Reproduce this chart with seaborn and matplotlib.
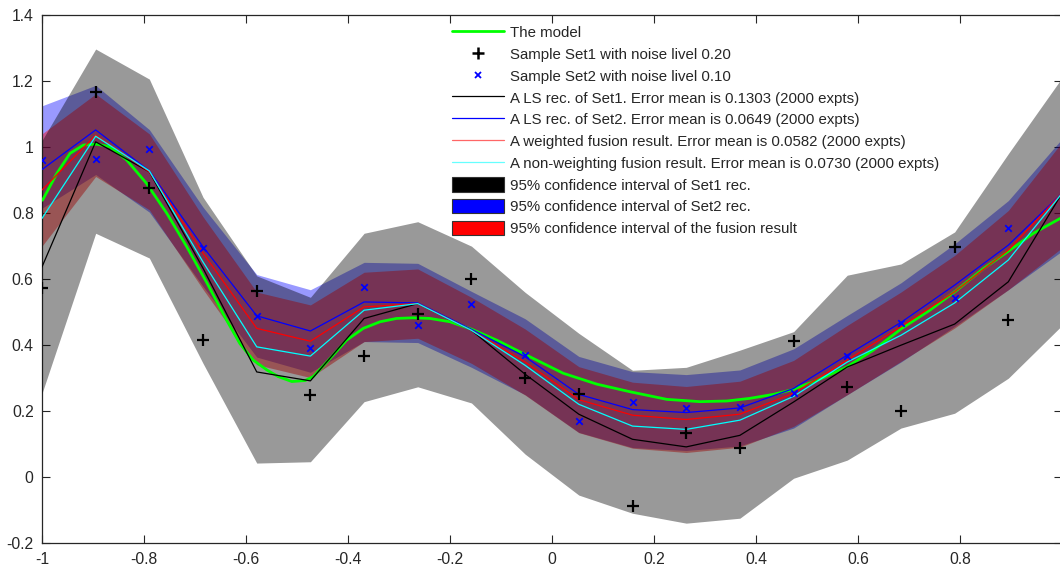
import matplotlib
matplotlib.use('Agg')
import matplotlib.pyplot as plt
import seaborn as sns
from matplotlib.lines import Line2D
from matplotlib.patches import Patch

nan = float('nan')

# sample positions (20 points on [-1, 1])
xs = [-1.0, -0.8947, -0.7895, -0.6842, -0.5789, -0.4737, -0.3684, -0.2632, -0.1579, -0.0526,
      0.0526, 0.1579, 0.2632, 0.3684, 0.4737, 0.5789, 0.6842, 0.7895, 0.8947, 1.0]

# noisy samples (the last one is not visible in the picture)
set1 = [0.573, 1.167, 0.876, 0.417, 0.565, 0.249, 0.368, 0.494, 0.600, 0.301,
        0.252, -0.087, 0.134, 0.089, 0.414, 0.273, 0.202, 0.697, 0.475, nan]
set2 = [0.961, 0.963, 0.993, 0.693, 0.488, 0.391, 0.576, 0.462, 0.526, 0.369,
        0.169, 0.228, 0.211, 0.212, 0.256, 0.368, 0.467, 0.542, 0.755, nan]

# reconstructions
ls1 = [0.637, 1.016, 0.925, 0.633, 0.319, 0.292, 0.481, 0.526, 0.445, 0.312,
       0.191, 0.115, 0.092, 0.127, 0.228, 0.334, 0.400, 0.464, 0.592, 0.86]
ls2 = [0.932, 1.052, 0.928, 0.698, 0.489, 0.443, 0.531, 0.528, 0.448, 0.365,
       0.251, 0.205, 0.196, 0.210, 0.269, 0.370, 0.469, 0.582, 0.703, 0.86]
fus_w = [0.870, 1.036, 0.925, 0.679, 0.451, 0.412, 0.516, 0.526, 0.445, 0.349,
         0.235, 0.188, 0.175, 0.191, 0.254, 0.355, 0.456, 0.562, 0.688, 0.86]
fus_nw = [0.784, 1.033, 0.928, 0.652, 0.395, 0.367, 0.506, 0.526, 0.445, 0.339,
          0.221, 0.155, 0.145, 0.173, 0.245, 0.349, 0.430, 0.528, 0.658, 0.86]

# 95% confidence bands
set1_hi = [1.02, 1.297, 1.206, 0.848, 0.61, 0.545, 0.739, 0.774, 0.70, 0.56,
           0.436, 0.324, 0.333, 0.385, 0.441, 0.612, 0.646, 0.743, 0.98, 1.21]
set1_lo = [0.254, 0.739, 0.664, 0.345, 0.043, 0.047, 0.229, 0.274, 0.225, 0.07,
           -0.054, -0.109, -0.139, -0.124, -0.003, 0.052, 0.149, 0.194, 0.30, 0.46]
set2_hi = [1.125, 1.187, 1.053, 0.818, 0.614, 0.568, 0.651, 0.648, 0.563, 0.480,
           0.366, 0.320, 0.311, 0.325, 0.389, 0.490, 0.589, 0.707, 0.838, 1.025]
set2_lo = [0.815, 0.917, 0.803, 0.578, 0.364, 0.318, 0.411, 0.408, 0.333, 0.250,
           0.136, 0.090, 0.081, 0.095, 0.149, 0.250, 0.349, 0.457, 0.568, 0.685]
fus_hi = [1.04, 1.161, 1.04, 0.789, 0.561, 0.522, 0.621, 0.631, 0.545, 0.449,
          0.335, 0.288, 0.275, 0.291, 0.354, 0.46, 0.561, 0.672, 0.808, 1.015]
fus_lo = [0.70, 0.911, 0.81, 0.569, 0.341, 0.302, 0.411, 0.421, 0.345, 0.249,
          0.135, 0.088, 0.075, 0.091, 0.154, 0.25, 0.351, 0.452, 0.568, 0.695]

model_x = [-0.999, -0.971, -0.945, -0.919, -0.893, -0.867, -0.834, -0.795, -0.755, -0.716,
           -0.677, -0.638, -0.612, -0.586, -0.559, -0.537, -0.510, -0.484, -0.468, -0.435,
           -0.403, -0.370, -0.337, -0.305, -0.272, -0.239, -0.200, -0.157, -0.108, -0.050,
           0.022, 0.088, 0.153, 0.225, 0.290, 0.343, 0.388, 0.434, 0.473, 0.525,
           0.578, 0.630, 0.686, 0.741, 0.794, 0.846, 0.898, 0.944, 1.0]
model_y = [0.839, 0.920, 0.981, 1.006, 1.009, 1.001, 0.961, 0.890, 0.799, 0.698,
           0.590, 0.476, 0.405, 0.355, 0.325, 0.305, 0.290, 0.293, 0.305, 0.360,
           0.415, 0.451, 0.471, 0.481, 0.483, 0.481, 0.471, 0.448, 0.415, 0.370,
           0.315, 0.282, 0.259, 0.236, 0.229, 0.231, 0.239, 0.251, 0.266, 0.297,
           0.334, 0.385, 0.451, 0.506, 0.567, 0.632, 0.688, 0.739, 0.787]

labels = ['The model',
          'Sample Set1 with noise livel 0.20',
          'Sample Set2 with noise livel 0.10',
          'A LS rec. of Set1. Error mean is 0.1303 (2000 expts)',
          'A LS rec. of Set2. Error mean is 0.0649 (2000 expts)',
          'A weighted fusion result. Error mean is 0.0582 (2000 expts)',
          'A non-weighting fusion result. Error mean is 0.0730 (2000 expts)',
          '95% confidence interval of Set1 rec.',
          '95% confidence interval of Set2 rec.',
          '95% confidence interval of the fusion result']

# the tick at x = 1 sits just past the right edge of the picture, so its label is not shown
xtick_vals = [-1, -0.8, -0.6, -0.4, -0.2, 0, 0.2, 0.4, 0.6, 0.8, 1]
xtick_text = ['-1', '-0.8', '-0.6', '-0.4', '-0.2', '0', '0.2', '0.4', '0.6', '0.8', '']
ytick_vals = [-0.2, 0, 0.2, 0.4, 0.6, 0.8, 1, 1.2, 1.4]
ytick_text = ['-0.2', '0', '0.2', '0.4', '0.6', '0.8', '1', '1.2', '1.4']

sns.set_style('ticks')
plt.rcParams['font.family'] = ['Liberation Sans', 'DejaVu Sans']

fig = plt.figure(figsize=(10.6, 5.65), dpi=100)
ax = fig.add_axes([0.0396, 0.0384, 0.9623, 0.935])

# bands: blue first, red next, grey on top (as in the original rendering)
ax.fill_between(xs, set2_lo, set2_hi, color='#0000ff', alpha=0.4, lw=0, zorder=1)
ax.fill_between(xs, fus_lo, fus_hi, color='#ff0000', alpha=0.44, lw=0, zorder=2)
ax.fill_between(xs, set1_lo, set1_hi, color='#000000', alpha=0.4, lw=0, zorder=3)

sns.lineplot(x=model_x, y=model_y, color='#00ff00', lw=2, estimator=None, sort=False, ax=ax, zorder=4)
sns.lineplot(x=xs, y=ls1, color='black', lw=0.9, estimator=None, sort=False, ax=ax, zorder=5)
sns.lineplot(x=xs, y=ls2, color='#0000ff', lw=0.9, estimator=None, sort=False, ax=ax, zorder=5)
sns.lineplot(x=xs, y=fus_w, color='#ff0000', lw=0.9, estimator=None, sort=False, ax=ax, zorder=5)
sns.lineplot(x=xs, y=fus_nw, color='#00ffff', lw=0.9, estimator=None, sort=False, ax=ax, zorder=5)
sns.scatterplot(x=xs, y=set1, marker='+', s=70, color='black', linewidth=1.6, ax=ax, zorder=6)
sns.scatterplot(x=xs, y=set2, marker='x', s=22, color='#0000ff', linewidth=1.3, ax=ax, zorder=6)

ax.set_xlim(-1, 1)
ax.set_ylim(-0.2, 1.4)
ax.set_xticks(xtick_vals)
ax.set_xticklabels(xtick_text)
ax.set_yticks(ytick_vals)
ax.set_yticklabels(ytick_text)
ax.tick_params(direction='in', length=6, width=0.8, colors='#262626', labelsize=11.3,
               top=True, right=True, pad=6)
for s in ax.spines.values():
    s.set_visible(True)
    s.set_color('#262626')
    s.set_linewidth(0.9)

handles = [Line2D([], [], color='#00ff00', lw=2),
           Line2D([], [], marker='+', ls='none', color='black', ms=8, mew=1.8),
           Line2D([], [], marker='x', ls='none', color='#0000ff', ms=5, mew=1.3),
           Line2D([], [], color='black', lw=0.9),
           Line2D([], [], color='#0000ff', lw=0.9),
           Line2D([], [], color='#ff6666', lw=0.9),
           Line2D([], [], color='#66ffff', lw=0.9),
           Patch(facecolor='black', edgecolor='#333333', lw=0.8),
           Patch(facecolor='#0000ff', edgecolor='#333333', lw=0.8),
           Patch(facecolor='#ff0000', edgecolor='#333333', lw=0.8)]
leg = fig.legend(handles, labels, loc='upper left', bbox_to_anchor=(452 / 1060, 1 - 25 / 565),
                 frameon=False, fontsize=10.8, borderpad=0, borderaxespad=0,
                 handlelength=3.44, handleheight=1.1, handletextpad=0.4, labelspacing=0.43)
for t in leg.get_texts():
    t.set_color('#262626')

fig.savefig('out.png', dpi=100)
